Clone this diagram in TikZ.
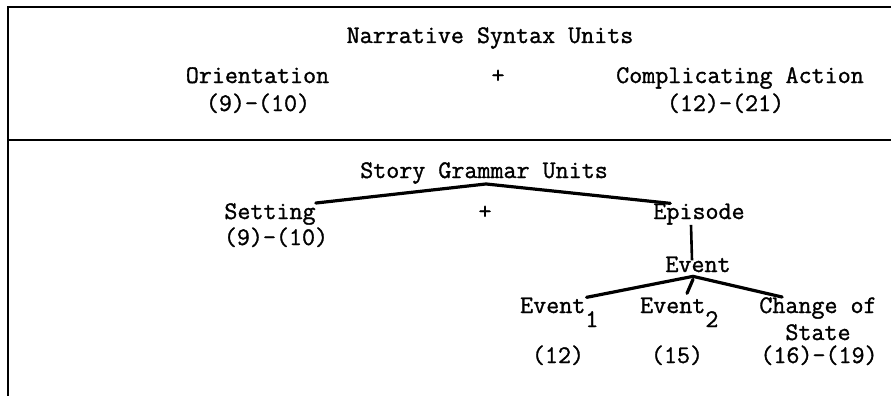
\documentclass[tikz,border=0pt]{standalone}
\usepackage{fontspec}
\newfontfamily\typew{Latin Modern Mono}[FakeBold=1.2]
\begin{document}
\begin{tikzpicture}[x=1pt,y=-1pt,
  txt/.style={font=\typew\fontsize{25.3}{30}\selectfont, inner sep=0pt, anchor=base},
  rule/.style={line width=1.8pt},
  branch/.style={line width=3.2pt, line cap=round}]
\useasboundingbox (0,0) rectangle (891,396);
% frame
\coordinate (tl) at (8,7);
\coordinate (tr) at (891,7);
\coordinate (bl) at (8,396);
\coordinate (ml) at (8,140);
\coordinate (mr) at (891,140);
\draw[rule] (tr) -- (tl) -- (bl);
\draw[rule] (ml) -- (mr);
% top section
\node[txt] (nsu) at (490,43) {Narrative Syntax Units};
\node[txt] (orient) at (257.5,83) {Orientation};
\node[txt] (orientn) at (258,111) {(9)-(10)};
\node[txt] (plusa) at (498,83) {+};
\node[txt] (comp) at (740,83) {Complicating Action};
\node[txt] (compn) at (725.5,111) {(12)-(21)};
% bottom section
\node[txt] (sgu) at (484,178) {Story Grammar Units};
\node[txt] (setting) at (270,219) {Setting};
\node[txt] (settingn) at (276,245) {(9)-(10)};
\node[txt] (plusb) at (485,219) {+};
\node[txt] (episode) at (699,219) {Episode};
\node[txt] (event) at (698,272) {Event};
\node[txt, anchor=base west] (eone) at (520,313) {Event\raisebox{-14pt}{1}};
\node[txt, anchor=base west] (etwo) at (640,313) {Event\raisebox{-14pt}{2}};
\node[txt] (change) at (818,313) {Change of};
\node[txt] (state) at (818,340) {State};
\node[txt] (eonen) at (558,363) {(12)};
\node[txt] (etwon) at (677,363) {(15)};
\node[txt] (changen) at (819,363) {(16)-(19)};
% connectors
\draw[branch] (setting.north east) -- ([xshift=2pt]sgu.south) -- ([xshift=17pt]episode.north west);
\draw[line width=2.6pt] ([xshift=-8pt]episode.south) -- ([xshift=-6pt,yshift=-4pt]event.north);
\coordinate (apex) at ([xshift=-5pt,yshift=-4pt]event.south);
\draw[branch] ([xshift=-12pt]eone.north east) -- (apex) -- ([xshift=23pt]change.north west);
\draw[branch] ([yshift=-3pt]apex) -- ([xshift=47pt,yshift=4pt]etwo.north west);
\end{tikzpicture}
\end{document}
